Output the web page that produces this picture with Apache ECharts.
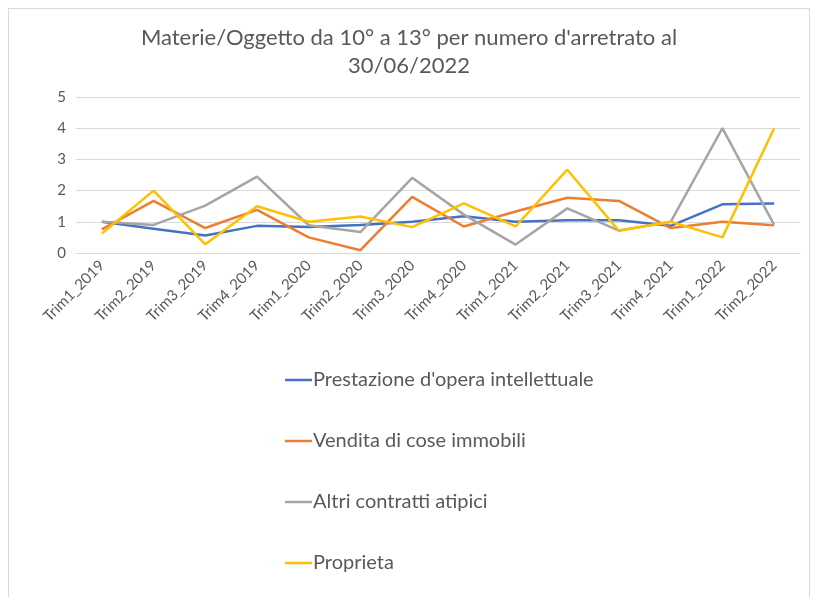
<!DOCTYPE html>
<html>
<head>
<meta charset="utf-8">
<script src="https://cdn.jsdelivr.net/npm/echarts@6/dist/echarts.min.js"></script>
<style>
  html, body { margin: 0; padding: 0; background: #fff; }
  #chart { position: absolute; left: 8px; top: 8px; width: 802px; height: 600px; border: 1px solid #d9d9d9; box-sizing: border-box; }
</style>
</head>
<body>
<div id="chart"></div>
<script>
var categories = ['Trim1_2019', 'Trim2_2019', 'Trim3_2019', 'Trim4_2019', 'Trim1_2020', 'Trim2_2020', 'Trim3_2020',
                  'Trim4_2020', 'Trim1_2021', 'Trim2_2021', 'Trim3_2021', 'Trim4_2021', 'Trim1_2022', 'Trim2_2022'];
// valori
var prestazione = [1.0, 0.78, 0.56, 0.87, 0.83, 0.9, 1.0, 1.18, 1.0, 1.05, 1.05, 0.87, 1.56, 1.59];
var vendita     = [0.76, 1.67, 0.8, 1.38, 0.5, 0.09, 1.8, 0.85, 1.33, 1.77, 1.67, 0.8, 1.0, 0.89];
var altri       = [1.0, 0.9, 1.52, 2.45, 0.89, 0.67, 2.41, 1.23, 0.27, 1.43, 0.72, 1.0, 4.0, 0.9];
var proprieta   = [0.62, 2.0, 0.28, 1.5, 1.0, 1.17, 0.83, 1.59, 0.85, 2.67, 0.71, 1.0, 0.5, 4.0];

var chart = echarts.init(document.getElementById('chart'));
var txt = '#595959';
var font = 'Lato, "Open Sans", sans-serif';

function serie(name, data, color) {
    return {
        name: name,
        type: 'line',
        data: data,
        symbol: 'none',
        lineStyle: { color: color, width: 2.5 },
        itemStyle: { color: color }
    };
}

chart.setOption({
    backgroundColor: '#fff',
    animation: false,
    textStyle: { fontFamily: font },
    title: {
        text: "Materie/Oggetto da 10° a 13° per numero d'arretrato al\n30/06/2022",
        left: 'center',
        top: 10,
        textStyle: { color: txt, fontSize: 22, fontWeight: 'normal', lineHeight: 28, fontFamily: font }
    },
    grid: { left: 67, right: 9, top: 88, height: 156, containLabel: false },
    xAxis: {
        type: 'category',
        data: categories,
        boundaryGap: true,
        axisLine: { lineStyle: { color: '#d9d9d9', width: 1 } },
        axisTick: { show: false },
        axisLabel: { color: txt, fontSize: 15, rotate: 45, interval: 0, margin: 10, fontFamily: font }
    },
    yAxis: {
        type: 'value',
        min: 0,
        max: 5,
        interval: 1,
        axisLine: { show: false },
        axisTick: { show: false },
        axisLabel: { color: txt, fontSize: 15, margin: 10, fontFamily: font },
        splitLine: { lineStyle: { color: '#d9d9d9', width: 1 } }
    },
    legend: {
        orient: 'vertical',
        left: 271,
        top: 356,
        icon: 'rect',
        itemWidth: 27,
        itemHeight: 2.5,
        itemGap: 41,
        textStyle: { color: txt, fontSize: 20, lineHeight: 14, padding: [0, 0, 0, -4], fontFamily: font }
    },
    series: [
        serie("Prestazione d'opera intellettuale", prestazione, '#4472c4'),
        serie('Vendita di cose immobili', vendita, '#ed7d31'),
        serie('Altri contratti atipici', altri, '#a5a5a5'),
        serie('Proprieta', proprieta, '#ffc000')
    ]
});
</script>
</body>
</html>
